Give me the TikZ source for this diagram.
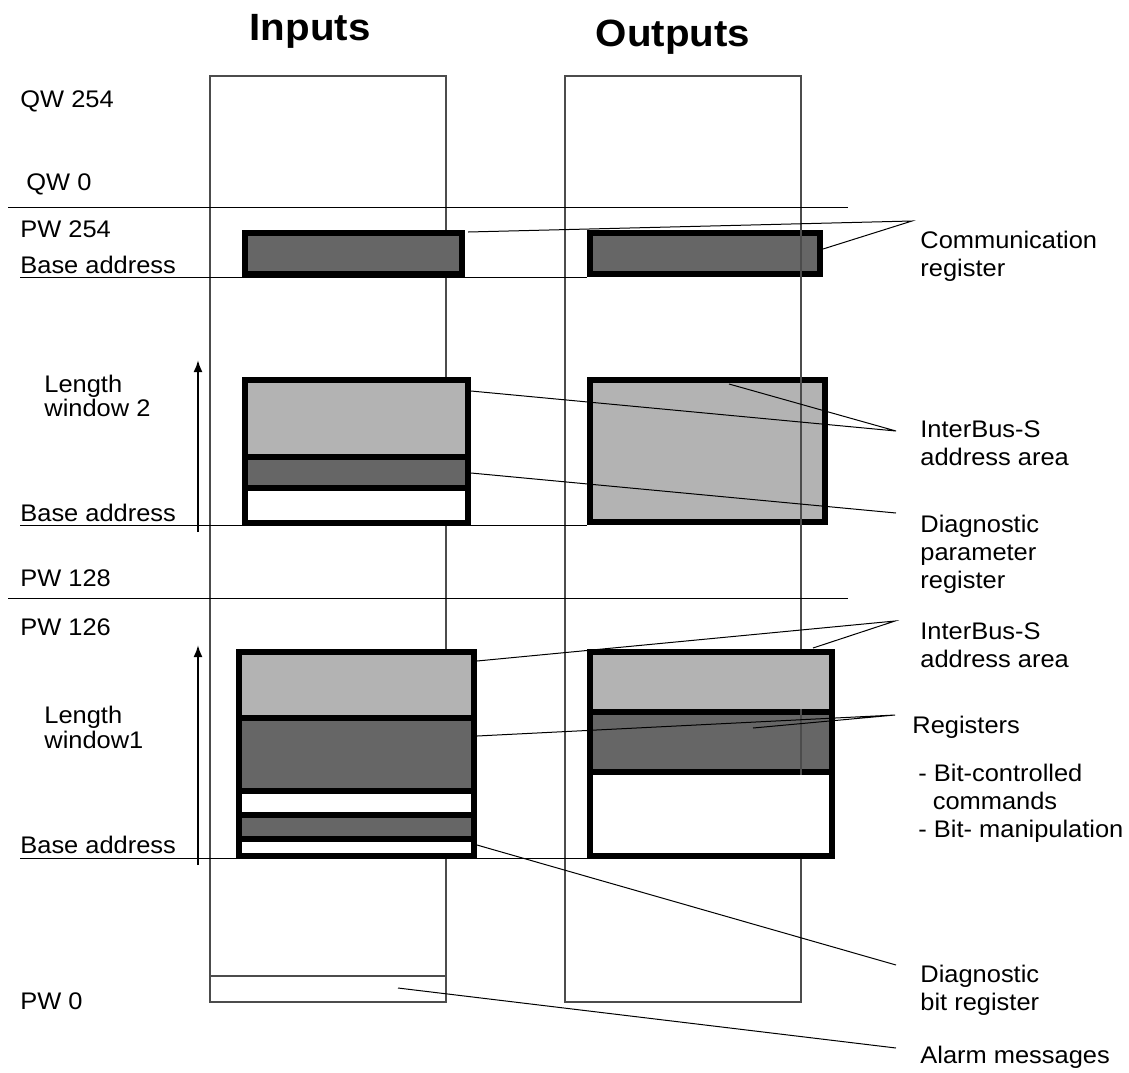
\documentclass[tikz,border=0pt]{standalone}
\usepackage{fontspec}
\setmainfont[FakeStretch=1.06]{Liberation Sans}
\usetikzlibrary{arrows.meta}

\definecolor{regdark}{HTML}{666666}
\definecolor{arealight}{HTML}{B3B3B3}

\tikzset{
  txt/.style={anchor=base west, inner sep=0pt, align=left, font=\fontsize{12}{14}\selectfont},
  ttl/.style={anchor=base, inner sep=0pt, font=\fontsize{19}{22}\selectfont\bfseries},
  regbox/.style={line width=3pt},
  leader/.style={line width=0.5pt},
  colline/.style={line width=0.7pt, draw=black!70},
  lenarrow/.style={line width=1pt, -{Latex[length=6pt,width=4.5pt]}},
}

\begin{document}
\begin{tikzpicture}[x=0.5pt, y=-0.5pt]
\useasboundingbox (0,0) rectangle (1129,1072);

% columns and address lines
\draw [colline] (210,76) rectangle (446,1002);
\draw [colline] (565,76) rectangle (801,1002);
\draw [colline] (210,976) -- (446,976);

\begin{scope}[line width=0.5pt]
\draw (8,207) -- (848,207);
\draw (8,598) -- (848,598);
\draw (20,277) -- (587,277);
\draw (20,525) -- (587,525);
\draw (20,858) -- (587,858);
\end{scope}

% communication registers
\filldraw [regbox, fill=regdark] (245,233) rectangle (462,274);
\filldraw [regbox, fill=regdark] (590,233) rectangle (820,274);

% window 2
\fill [arealight] (245,380) rectangle (468,457);
\fill [regdark] (245,457) rectangle (468,488);
\fill [white] (245,488) rectangle (468,523);
\draw [regbox] (245,380) rectangle (468,523);
\draw [regbox] (245,457) -- (468,457);
\draw [regbox] (245,488) -- (468,488);
\filldraw [regbox, fill=arealight] (590,380) rectangle (825,522);

% window 1
\fill [arealight] (239,652) rectangle (474,718);
\fill [regdark] (239,718) rectangle (474,791);
\fill [white] (239,791) rectangle (474,815);
\fill [regdark] (239,815) rectangle (474,839);
\fill [white] (239,839) rectangle (474,856);
\draw [regbox] (239,652) rectangle (474,856);
\foreach \yy in {718,791,815,839}
  \draw [regbox] (239,\yy) -- (474,\yy);

\fill [arealight] (590,652) rectangle (832,712);
\fill [regdark] (590,712) rectangle (832,772);
\fill [white] (590,772) rectangle (832,856);
\draw [regbox] (590,652) rectangle (832,856);
\draw [regbox] (590,712) -- (832,712);
\draw [regbox] (590,772) -- (832,772);

% output column edge seen through the grey areas
\draw [colline] (801,230) -- (801,277);
\draw [colline] (801,377) -- (801,525);
\draw [colline] (801,709) -- (801,775);

% headings
\node [ttl] (hin) at (310,40) {Inputs};
\node [ttl] (hout) at (673,46) {Outputs};

% address labels
\node [txt] (qw254) at (20,107) {QW 254};
\node [txt] (qw0) at (26,190) {QW 0};
\node [txt] (pw254) at (20,237) {PW 254};
\node [txt] (base3) at (20,273) {Base address};
\node [txt, font=\fontsize{12}{12}\selectfont] (len2) at (44,416) {Length\\window 2};
\node [txt] (base2) at (20,521) {Base address};
\node [txt] (pw128) at (20,586) {PW 128};
\node [txt] (pw126) at (20,635) {PW 126};
\node [txt, font=\fontsize{12}{12.5}\selectfont] (len1) at (44,748) {Length\\window1};
\node [txt] (base1) at (20,853) {Base address};
\node [txt] (pw0) at (20,1009) {PW 0};

% length arrows
\coordinate (a2s) at (198,532);
\coordinate (a2e) at (198,360);
\coordinate (a1s) at (198,865);
\coordinate (a1e) at (198,645);
\draw [lenarrow] (a2s) -- (a2e);
\draw [lenarrow] (a1s) -- (a1e);

% callout texts
\node [txt] (comm) at (920,276) {Communication\\register};
\node [txt] (ibs2) at (920,465) {InterBus-S\\address area};
\node [txt] (dpar) at (920,588) {Diagnostic\\parameter\\register};
\node [txt] (ibs1) at (920,667) {InterBus-S\\address area};
\node [txt] (regs) at (912,733) {Registers};
\node [txt] (bitc) at (918,837) {- Bit-controlled\\\hspace*{0.6em}commands\\- Bit- manipulation};
\node [txt] (dbit) at (920,1010) {Diagnostic\\bit register};
\node [txt] (alarm) at (920,1063) {Alarm messages};

% leader lines
\coordinate (commhub) at (912,221);
\coordinate (ibs2hub) at (896,431);
\coordinate (dparhub) at (896,513);
\coordinate (ibs1hub) at (895,621);
\coordinate (regshub) at (895,715);
\coordinate (dbithub) at (896,965);
\coordinate (alarmhub) at (896,1048);

\coordinate (commin) at (468,232);
\coordinate (commout) at (823,249);
\coordinate (ibs2in) at (471,391);
\coordinate (ibs2out) at (729,384);
\coordinate (dparin) at (471,473);
\coordinate (ibs1in) at (477,661);
\coordinate (ibs1out) at (813,648);
\coordinate (regsin) at (477,736);
\coordinate (regsout) at (753,728);
\coordinate (dbitin) at (477,845);
\coordinate (alarmin) at (398,988);

\begin{scope}[leader]
\draw (commin) -- (commhub) -- (commout);
\draw (ibs2in) -- (ibs2hub) -- (ibs2out);
\draw (dparin) -- (dparhub);
\draw (ibs1in) -- (ibs1hub) -- (ibs1out);
\draw (regsin) -- (regshub) -- (regsout);
\draw (dbitin) -- (dbithub);
\draw (alarmin) -- (alarmhub);
\end{scope}

\end{tikzpicture}
\end{document}
